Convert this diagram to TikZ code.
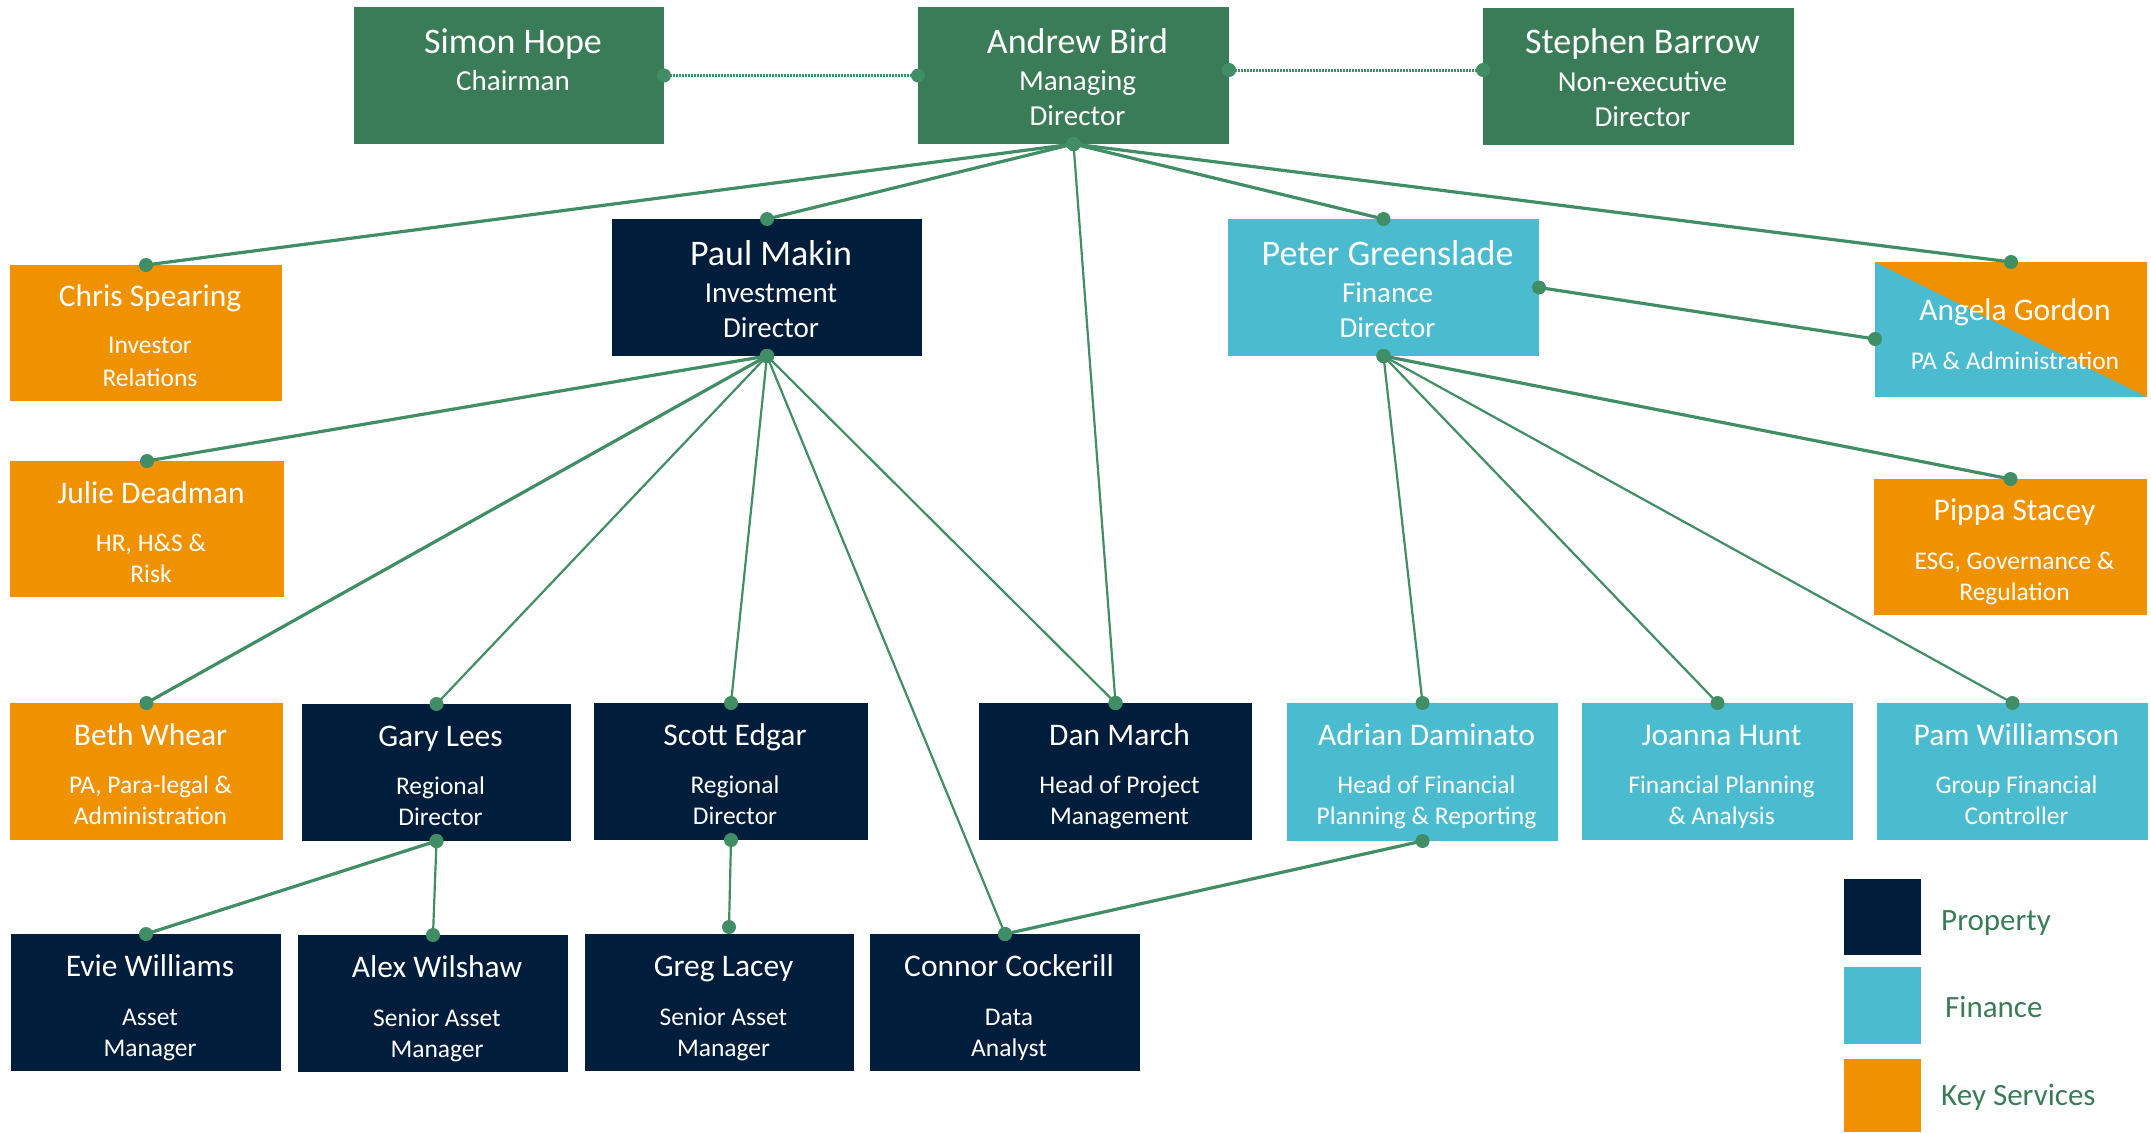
\documentclass[tikz,border=0pt]{standalone}
\usepackage{fontspec}
\setmainfont{Carlito}
\usetikzlibrary{calc}
\definecolor{navy}{HTML}{001D3B}
\definecolor{cyanb}{HTML}{4BBCCF}
\definecolor{orangeb}{HTML}{F09200}
\definecolor{greenb}{HTML}{3B7C58}
\definecolor{linkc}{HTML}{418E66}
\newcommand\pbox[6]{\node[#2, minimum width={#5-#3}, minimum height={#6-#4}, anchor=north west] (#1) at (#3,#4) {};}
\newcommand\txtline[5]{\node[tline,#4] (#1-#2) at ($(#1.north)+(4,#3)$) {#5};}
\newcommand\conn[3][thinlink]{\draw[#1] (#2) -- (#3); \fill[linkc] (#2) circle (7); \fill[linkc] (#3) circle (7);}
\begin{document}
\begin{tikzpicture}[x=1pt,y=-1pt,
  boxbase/.style={inner sep=0pt, outer sep=0pt, draw=none},
  greenbox/.style={boxbase, fill=greenb},
  navybox/.style={boxbase, fill=navy},
  cyanbox/.style={boxbase, fill=cyanb},
  orangebox/.style={boxbase, fill=orangeb},
  tline/.style={inner sep=0pt, anchor=base, text=white},
  nameA/.style={font=\fontsize{36}{40}\selectfont},
  subA/.style={font=\fontsize{29}{33}\selectfont},
  nameB/.style={font=\fontsize{31.5}{36}\selectfont},
  subB/.style={font=\fontsize{25.5}{30}\selectfont},
  legtext/.style={inner sep=0pt, anchor=base west, text=greenb, font=\fontsize{31}{36}\selectfont},
  thinlink/.style={draw=linkc, line width=2.2pt},
  thicklink/.style={draw=linkc, line width=3.2pt},
  dotlink/.style={draw=linkc, line width=3pt, dash pattern=on 1.6pt off 1.4pt}
]
\useasboundingbox (0,0) rectangle (2151,1132);

% boxes
\pbox{simon}{greenbox}{354}{7}{664}{144}
\pbox{andrew}{greenbox}{918}{7}{1229}{144}
\pbox{stephen}{greenbox}{1483}{8}{1794}{145}
\pbox{chris}{orangebox}{10}{265}{282}{401}
\pbox{paul}{navybox}{612}{219}{922}{356}
\pbox{peter}{cyanbox}{1228}{219}{1539}{356}
\pbox{angela}{cyanbox}{1875}{262}{2147}{397}
\fill[orangeb] (angela.north west) -- (angela.north east) -- (angela.south east) -- cycle;
\pbox{julie}{orangebox}{10}{461}{284}{597}
\pbox{pippa}{orangebox}{1874}{479}{2147}{615}
\pbox{beth}{orangebox}{10}{703}{283}{840}
\pbox{gary}{navybox}{302}{704}{571}{841}
\pbox{scott}{navybox}{594}{703}{868}{840}
\pbox{dan}{navybox}{979}{703}{1252}{840}
\pbox{adrian}{cyanbox}{1287}{703}{1558}{841}
\pbox{joanna}{cyanbox}{1582}{703}{1853}{840}
\pbox{pam}{cyanbox}{1877}{703}{2148}{840}
\pbox{evie}{navybox}{11}{934}{281}{1071}
\pbox{alex}{navybox}{298}{935}{568}{1072}
\pbox{greg}{navybox}{585}{934}{854}{1071}
\pbox{connor}{navybox}{870}{934}{1140}{1071}

% legend
\pbox{legP}{navybox}{1844}{879}{1921}{955}
\pbox{legF}{cyanbox}{1844}{967}{1921}{1044}
\pbox{legK}{orangebox}{1844}{1059}{1921}{1132}
\node[legtext] (legPt) at (1941,930) {Property};
\node[legtext] (legFt) at (1945,1017) {Finance};
\node[legtext] (legKt) at (1941,1105) {Key Services};

% special connection points
\coordinate (andrewE) at ($(andrew.east)+(0,-5.5)$);
\coordinate (stephenW) at ($(stephen.west)+(0,-6.5)$);
\coordinate (angelaW) at ($(angela.west)+(0,9.5)$);
\coordinate (gregtop) at (729,927);

% dotted links
\conn[dotlink]{simon.east}{andrew.west}
\conn[dotlink]{andrewE}{stephenW}

% Andrew Bird
\conn[thicklink]{andrew.south}{chris.north}
\conn[thicklink]{andrew.south}{paul.north}
\conn[thinlink]{andrew.south}{dan.north}
\conn[thicklink]{andrew.south}{peter.north}
\conn[thicklink]{andrew.south}{angela.north}

% Paul Makin
\conn[thicklink]{paul.south}{julie.north}
\conn[thicklink]{paul.south}{beth.north}
\conn[thinlink]{paul.south}{gary.north}
\conn[thinlink]{paul.south}{scott.north}
\conn[thinlink]{paul.south}{connor.north}
\conn[thinlink]{paul.south}{dan.north}

% Peter Greenslade
\conn[thicklink]{peter.east}{angelaW}
\conn[thicklink]{peter.south}{pippa.north}
\conn[thinlink]{peter.south}{adrian.north}
\conn[thinlink]{peter.south}{joanna.north}
\conn[thinlink]{peter.south}{pam.north}

% lower levels
\conn[thicklink]{gary.south}{evie.north}
\conn[thinlink]{gary.south}{alex.north}
\conn[thinlink]{scott.south}{gregtop}
\conn[thicklink]{adrian.south}{connor.north}

% texts
\txtline{simon}{1}{46}{nameA}{Simon Hope}
\txtline{simon}{2}{83}{subA}{Chairman}
\txtline{andrew}{1}{46}{nameA}{Andrew Bird}
\txtline{andrew}{2}{83}{subA}{Managing}
\txtline{andrew}{3}{118}{subA}{Director}
\txtline{stephen}{1}{46}{nameA}{Stephen Barrow}
\txtline{stephen}{2}{83}{subA}{Non-executive}
\txtline{stephen}{3}{118}{subA}{Director}
\txtline{paul}{1}{46}{nameA}{Paul Makin}
\txtline{paul}{2}{83}{subA}{Investment}
\txtline{paul}{3}{118}{subA}{Director}
\txtline{peter}{1}{46}{nameA}{Peter Greenslade}
\txtline{peter}{2}{83}{subA}{Finance}
\txtline{peter}{3}{118}{subA}{Director}
\txtline{chris}{1}{41}{nameB}{Chris Spearing}
\txtline{chris}{2}{88}{subB}{Investor}
\txtline{chris}{3}{121}{subB}{Relations}
\txtline{angela}{1}{58}{nameB}{Angela Gordon}
\txtline{angela}{2}{107}{subB}{PA \& Administration}
\txtline{julie}{1}{42}{nameB}{Julie Deadman}
\txtline{julie}{2}{90}{subB}{HR, H\&S \&}
\txtline{julie}{3}{121}{subB}{Risk}
\txtline{pippa}{1}{41}{nameB}{Pippa Stacey}
\txtline{pippa}{2}{90}{subB}{ESG, Governance \&}
\txtline{pippa}{3}{121}{subB}{Regulation}
\txtline{beth}{1}{42}{nameB}{Beth Whear}
\txtline{beth}{2}{90}{subB}{PA, Para-legal \&}
\txtline{beth}{3}{121}{subB}{Administration}
\txtline{gary}{1}{42}{nameB}{Gary Lees}
\txtline{gary}{2}{90}{subB}{Regional}
\txtline{gary}{3}{121}{subB}{Director}
\txtline{scott}{1}{42}{nameB}{Scott Edgar}
\txtline{scott}{2}{90}{subB}{Regional}
\txtline{scott}{3}{121}{subB}{Director}
\txtline{dan}{1}{42}{nameB}{Dan March}
\txtline{dan}{2}{90}{subB}{Head of Project}
\txtline{dan}{3}{121}{subB}{Management}
\txtline{adrian}{1}{42}{nameB}{Adrian Daminato}
\txtline{adrian}{2}{90}{subB}{Head of Financial}
\txtline{adrian}{3}{121}{subB}{Planning \& Reporting}
\txtline{joanna}{1}{42}{nameB}{Joanna Hunt}
\txtline{joanna}{2}{90}{subB}{Financial Planning}
\txtline{joanna}{3}{121}{subB}{\& Analysis}
\txtline{pam}{1}{42}{nameB}{Pam Williamson}
\txtline{pam}{2}{90}{subB}{Group Financial}
\txtline{pam}{3}{121}{subB}{Controller}
\txtline{evie}{1}{42}{nameB}{Evie Williams}
\txtline{evie}{2}{91}{subB}{Asset}
\txtline{evie}{3}{122}{subB}{Manager}
\txtline{alex}{1}{42}{nameB}{Alex Wilshaw}
\txtline{alex}{2}{91}{subB}{Senior Asset}
\txtline{alex}{3}{122}{subB}{Manager}
\txtline{greg}{1}{42}{nameB}{Greg Lacey}
\txtline{greg}{2}{91}{subB}{Senior Asset}
\txtline{greg}{3}{122}{subB}{Manager}
\txtline{connor}{1}{42}{nameB}{Connor Cockerill}
\txtline{connor}{2}{91}{subB}{Data}
\txtline{connor}{3}{122}{subB}{Analyst}
\end{tikzpicture}
\end{document}
